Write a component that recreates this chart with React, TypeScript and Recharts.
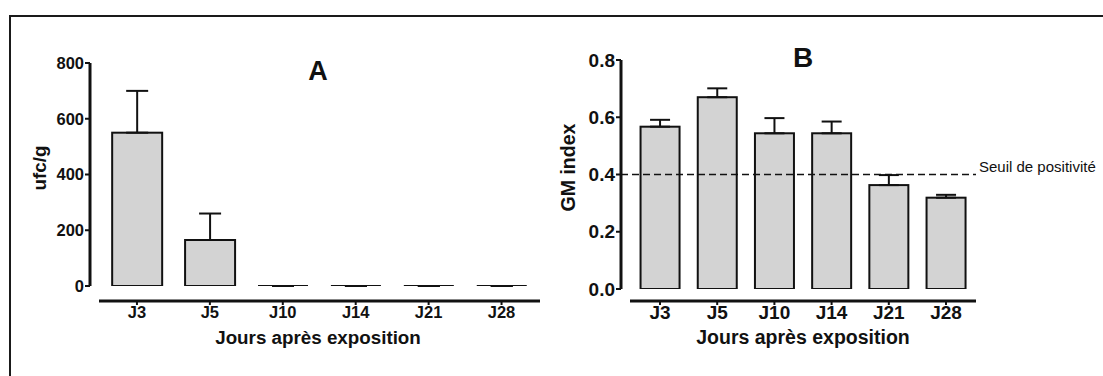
import React from 'react';
import { BarChart, Bar, XAxis, YAxis, ErrorBar, ReferenceLine } from 'recharts';

const days = ['J3', 'J5', 'J10', 'J14', 'J21', 'J28'];
const ufcMean = [550, 165, 0, 0, 0, 0];
const ufcSem = [150, 95, 0, 0, 0, 0];
const ufcTicks = [0, 200, 400, 600, 800];
const gmMean = [0.567, 0.67, 0.544, 0.544, 0.363, 0.319];
const gmSem = [0.024, 0.031, 0.053, 0.041, 0.035, 0.01];
const gmTicks = [0, 0.2, 0.4, 0.6, 0.8];
const gmThreshold = 0.4;

const INK = '#111';
const FILL = '#d3d3d3';
const FONT = '"Liberation Sans", Arial, Helvetica, sans-serif';
const AXIS_GAP = 9; // prism-style gap between the y and x axis lines

const toRows = (means: number[], sems: number[]) =>
  days.map((day, i) => ({ day, value: means[i], err: [0, sems[i]] }));

// zero-height bars are drawn as a flat line, like the original
const BarBox = (props: any) => {
  const { x, y, width, height } = props;
  if (!height || Math.abs(height) < 0.5) {
    return <line x1={x} x2={x + width} y1={y} y2={y} stroke={INK} strokeWidth={2} />;
  }
  return <rect x={x} y={y} width={width} height={height} fill={FILL} stroke={INK} strokeWidth={2} />;
};

const xTitle = (text: string, size: number, dx: number) => (p: any) => {
  const vb = p.viewBox;
  return (
    <text x={vb.x + vb.width / 2 + dx} y={vb.y + 43} textAnchor="middle"
      fontFamily={FONT} fontWeight={700} fontSize={size} fill={INK}>{text}</text>
  );
};

const yTitle = (text: string, size: number, dx: number, dy: number) => (p: any) => {
  const vb = p.viewBox;
  const cx = vb.x + vb.width + dx;
  const cy = vb.y + vb.height / 2 + dy;
  return (
    <text x={cx} y={cy} transform={`rotate(-90 ${cx} ${cy})`} textAnchor="middle" dominantBaseline="central"
      fontFamily={FONT} fontWeight={700} fontSize={size} fill={INK}>{text}</text>
  );
};

// dashed threshold line that starts at the y axis line, not at the plot edge
const ThresholdLine = (props: any) => (
  <line x1={props.x1 - AXIS_GAP} x2={props.x2} y1={props.y1} y2={props.y2}
    stroke={INK} strokeWidth={1.5} strokeDasharray="7 4" />
);

interface PanelProps {
  left: number;
  width: number;
  top: number;
  leftMargin: number;
  rightMargin: number;
  yWidth: number;
  xGap: number;
  data: any[];
  domain: [number, number];
  ticks: number[];
  fmt?: (v: number) => string;
  padLeft: number;
  padRight: number;
  capWidth: number;
  tickSize: number;
  titleSize: number;
  yLabel: string;
  yDx: number;
  yDy: number;
  xDx: number;
  children?: React.ReactNode;
}

const Panel: React.FC<PanelProps> = (p) => {
  const tickStyle = { fill: INK, fontSize: p.tickSize, fontWeight: 700, fontFamily: FONT };
  const pad = { left: p.padLeft, right: p.padRight };
  return (
    <div style={{ position: 'absolute', left: p.left, top: 0 }}>
      <BarChart width={p.width} height={376} data={p.data} barCategoryGap="16%"
        margin={{ top: p.top, right: p.rightMargin, bottom: 25, left: p.leftMargin }}>
        {/* empty axes next to the plot push the drawn axes away, prism style */}
        <XAxis dataKey="day" height={p.xGap} padding={pad} tick={false} tickLine={false} axisLine={false} />
        <XAxis xAxisId="lab" dataKey="day" height={50} interval={0} padding={pad}
          axisLine={{ stroke: INK, strokeWidth: 3 }} tickLine={{ stroke: INK, strokeWidth: 2 }}
          tickSize={4} tickMargin={1} tick={tickStyle}
          label={{ content: xTitle('Jours après exposition', p.titleSize, p.xDx) }} />
        <YAxis width={AXIS_GAP} tick={false} tickLine={false} axisLine={false} />
        <YAxis yAxisId="lab" domain={p.domain} ticks={p.ticks} tickFormatter={p.fmt} width={p.yWidth} interval={0}
          allowDataOverflow axisLine={{ stroke: INK, strokeWidth: 3 }} tickLine={{ stroke: INK, strokeWidth: 2 }}
          tickSize={5} tickMargin={1} tick={tickStyle}
          label={{ content: yTitle(p.yLabel, p.titleSize, p.yDx, p.yDy) }} />
        <Bar dataKey="value" yAxisId="lab" shape={BarBox} isAnimationActive={false}>
          <ErrorBar dataKey="err" direction="y" width={p.capWidth} stroke={INK} strokeWidth={2} isAnimationActive={false} />
        </Bar>
        {p.children}
      </BarChart>
    </div>
  );
};

export default function App() {
  return (
    <div style={{ position: 'absolute', left: 0, top: 0, width: 1103, height: 376, background: '#fff', overflow: 'hidden' }}>
      <div style={{ position: 'absolute', left: 9, top: 15, width: 1200, height: 500,
        borderTop: '2px solid #1a1a1a', borderLeft: '2px solid #1a1a1a' }} />
      <Panel left={0} width={560} top={63} leftMargin={20} rightMargin={20} yWidth={70} xGap={15}
        data={toRows(ufcMean, ufcSem)} domain={[0, 800]} ticks={ufcTicks}
        padLeft={1.5} padRight={2} capWidth={11} tickSize={16.5} titleSize={18.8}
        yLabel="ufc/g" yDx={-51} yDy={-6.5} xDx={-1.5} />
      <Panel left={540} width={563} top={60} leftMargin={21} rightMargin={127} yWidth={60} xGap={12}
        data={toRows(gmMean, gmSem)} domain={[0, 0.8]} ticks={gmTicks} fmt={(v) => v.toFixed(1)}
        padLeft={1.4} padRight={1.4} capWidth={10} tickSize={19} titleSize={19.5}
        yLabel="GM index" yDx={-53} yDy={-7} xDx={0}>
        <ReferenceLine y={gmThreshold} yAxisId="lab" shape={ThresholdLine}
          label={{ value: 'Seuil de positivité', position: 'right', offset: 3, dy: -8,
            fill: INK, fontSize: 15, fontFamily: FONT }} />
      </Panel>
      <svg width={1103} height={376} style={{ position: 'absolute', left: 0, top: 0, pointerEvents: 'none' }}>
        <text x={318} y={80} textAnchor="middle" fontFamily={FONT} fontWeight={700} fontSize={27} fill={INK}>A</text>
        <text x={803} y={67} textAnchor="middle" fontFamily={FONT} fontWeight={700} fontSize={28} fill={INK}>B</text>
      </svg>
    </div>
  );
}
